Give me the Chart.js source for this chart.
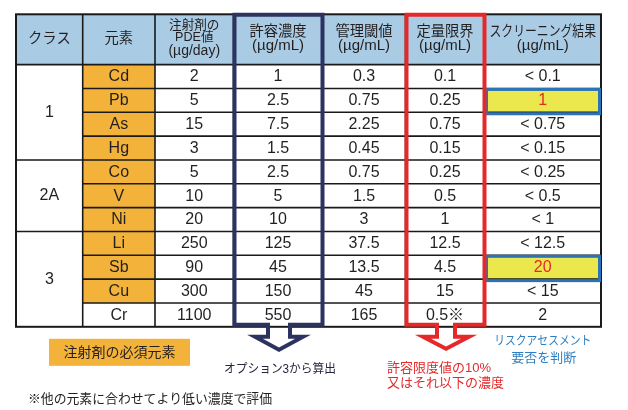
<!DOCTYPE html>
<html lang="ja">
<head>
<meta charset="utf-8">
<title>注射剤の元素不純物 評価表</title>
<script src="https://cdn.jsdelivr.net/npm/chart.js@4.4.1/dist/chart.umd.min.js"></script>
<style>
  html, body { margin: 0; padding: 0; background: #fff; }
  #wrap { position: relative; width: 628px; height: 410px; }
</style>
</head>
<body>
<div id="wrap"><canvas id="tableChart"></canvas></div>
<script>
// DATA
const headers = [
  ['クラス'], ['元素'], ['注射剤の', 'PDE値', '(µg/day)'],
  ['許容濃度', '(µg/mL)'], ['管理閾値', '(µg/mL)'], ['定量限界', '(µg/mL)'],
  ['スクリーニング結果', '(µg/mL)']
];
const classes = ['1', '2A', '3'];
const classSizes = [4, 3, 4];
const elements = ['Cd', 'Pb', 'As', 'Hg', 'Co', 'V', 'Ni', 'Li', 'Sb', 'Cu', 'Cr'];
const pdeValues = [2, 5, 15, 3, 5, 10, 20, 250, 90, 300, 1100];
const permittedConc = [1, 2.5, 7.5, 1.5, 2.5, 5, 10, 125, 45, 150, 550];
const controlThreshold = [0.3, 0.75, 2.25, 0.45, 0.75, 1.5, 3, 37.5, 13.5, 45, 165];
const quantLimit = [0.1, 0.25, 0.75, 0.15, 0.25, 0.5, 1, 12.5, 4.5, 15, 0.5];
const screeningResult = [0.1, 1, 0.75, 0.15, 0.25, 0.5, 1, 12.5, 20, 15, 2];
const belowLimit = [true, false, true, true, true, true, true, true, false, true, false];
const essentialElements = ['Cd', 'Pb', 'As', 'Hg', 'Co', 'V', 'Ni', 'Li', 'Sb', 'Cu'];
const flaggedElements = ['Pb', 'Sb'];
const footnoted = ['Cr'];

const legendText = '注射剤の必須元素';
const navyNote = 'オプション3から算出';
const redNote = ['許容限度値の10%', '又はそれ以下の濃度'];
const blueNote = ['リスクアセスメント', '要否を判断'];
const footnote = '※他の元素に合わせてより低い濃度で評価';

// layout (px from table left / row units)
const COL_EDGES = [0, 66.7, 139, 217.5, 306.5, 389.5, 468.5, 585];
const HEADER_H = 2.11;
const N = elements.length;

const DARK = '#231f20';
const NAVY = '#2d3361';
const RED = '#e5292b';
const BLUE = '#2c72b6';
const ORANGE = '#f3b23a';
const HEAD_BG = '#a9cbe4';
const FONT = '"Liberation Sans", "Noto Sans CJK JP", sans-serif';

const tablePlugin = {
  id: 'tablePlugin',
  beforeDraw(chart) {
    const ctx = chart.ctx;
    ctx.save();
    ctx.fillStyle = '#fff';
    ctx.fillRect(0, 0, chart.width, chart.height);
    ctx.restore();
  },
  afterDraw(chart) {
    const { ctx, scales: { x, y } } = chart;
    const X = v => x.getPixelForValue(v);
    const Y = v => y.getPixelForValue(v);
    const colL = c => X(COL_EDGES[c]);
    const colR = c => X(COL_EDGES[c + 1]);
    const colC = c => (colL(c) + colR(c)) / 2;
    const rowT = i => Y(HEADER_H + i);
    const rowB = i => Y(HEADER_H + i + 1);
    const rowC = i => (rowT(i) + rowB(i)) / 2;
    const left = X(0), right = X(585), top = Y(0), headB = Y(HEADER_H), bottom = Y(HEADER_H + N);

    const text = (s, cx, cy, size, color, maxW, align) => {
      ctx.font = size + 'px ' + FONT;
      ctx.fillStyle = color;
      ctx.textAlign = align || 'center';
      ctx.textBaseline = 'middle';
      if (maxW) ctx.fillText(s, cx, cy, maxW); else ctx.fillText(s, cx, cy);
    };

    ctx.save();
    // header background
    ctx.fillStyle = HEAD_BG;
    ctx.fillRect(left, top, right - left, headB - top);

    // essential element cells, flagged screening cells
    elements.forEach((el, i) => {
      if (essentialElements.includes(el)) {
        ctx.fillStyle = ORANGE;
        ctx.fillRect(colL(1), rowT(i), colR(1) - colL(1), rowB(i) - rowT(i));
      }
      if (flaggedElements.includes(el)) {
        ctx.fillStyle = '#ebe84e';
        ctx.fillRect(colL(6), rowT(i), colR(6) - colL(6), rowB(i) - rowT(i));
      }
    });

    // grid lines
    ctx.strokeStyle = '#1a1a1a';
    ctx.lineWidth = 1.6;
    ctx.beginPath();
    for (let i = 1; i < N; i++) {
      ctx.moveTo(colL(1), rowT(i));
      ctx.lineTo(right, rowT(i));
    }
    let acc = 0;
    classSizes.slice(0, -1).forEach(s => {
      acc += s;
      ctx.moveTo(left, rowT(acc));
      ctx.lineTo(colL(1), rowT(acc));
    });
    ctx.moveTo(left, headB); ctx.lineTo(right, headB);
    for (let c = 1; c < COL_EDGES.length - 1; c++) {
      ctx.moveTo(colL(c), top); ctx.lineTo(colL(c), bottom);
    }
    ctx.stroke();
    ctx.lineWidth = 2;
    ctx.strokeRect(left, top, right - left, bottom - top);

    // header text
    headers.forEach((lines, c) => {
      const three = lines.length > 2;
      const step = three ? 12.6 : 13.4;
      const y0 = (top + headB) / 2 - (lines.length - 1) * step / 2 - (three ? 1 : 0);
      lines.forEach((ln, k) => {
        const latin = ln.startsWith('(');
        const size = latin ? (three ? 14 : 15) : (three ? 12.6 : 14.3);
        const yy = y0 + k * step + (latin ? 0 : -0.5);
        text(ln, colC(c), yy, size, DARK, colR(c) - colL(c) - 10);
      });
    });

    // class column
    acc = 0;
    classes.forEach((cl, k) => {
      const yc = (rowT(acc) + rowB(acc + classSizes[k] - 1)) / 2;
      text(cl, colC(0), yc, 16, DARK);
      acc += classSizes[k];
    });

    // body cells
    elements.forEach((el, i) => {
      const cy = rowC(i) + 0.5;
      text(el, colC(1), cy, 16, DARK);
      text(String(pdeValues[i]), colC(2), cy, 16, DARK);
      text(String(permittedConc[i]), colC(3), cy, 16, DARK);
      text(String(controlThreshold[i]), colC(4), cy, 16, DARK);
      text(quantLimit[i] + (footnoted.includes(el) ? '※' : ''), colC(5), cy, 16, DARK);
      const s = (belowLimit[i] ? '< ' : '') + screeningResult[i];
      text(s, colC(6), cy, 16, flaggedElements.includes(el) ? RED : DARK);
    });

    // flagged borders
    ctx.strokeStyle = BLUE;
    ctx.lineWidth = 3;
    elements.forEach((el, i) => {
      if (!flaggedElements.includes(el)) return;
      ctx.strokeRect(colL(6) + 2, rowT(i) + 1, colR(6) - colL(6) - 3.5, rowB(i) - rowT(i) + 0.5);
    });

    // box + arrow outlines
    const boxArrow = (c, color, shaftHalf, headHalf, tipOff, cxShift) => {
      const l = colL(c) + 1, r = colR(c), t = top + 0.5, b = bottom - 2;
      const cx = colC(c) + cxShift;
      const headY = b + 12, tipY = b + tipOff;
      ctx.strokeStyle = color;
      ctx.lineWidth = 4;
      ctx.lineJoin = 'miter';
      ctx.beginPath();
      ctx.moveTo(cx - shaftHalf, b);
      ctx.lineTo(l, b);
      ctx.lineTo(l, t);
      ctx.lineTo(r, t);
      ctx.lineTo(r, b);
      ctx.lineTo(cx + shaftHalf, b);
      ctx.lineTo(cx + shaftHalf, headY);
      ctx.lineTo(cx + headHalf, headY);
      ctx.lineTo(cx, tipY);
      ctx.lineTo(cx - headHalf, headY);
      ctx.lineTo(cx - shaftHalf, headY);
      ctx.closePath();
      ctx.stroke();
    };
    boxArrow(3, NAVY, 11, 24, 25, 1);
    boxArrow(5, RED, 9, 23, 24, 1);

    // annotations below the table
    ctx.fillStyle = ORANGE;
    ctx.fillRect(X(33), bottom + 12, X(174) - X(33), 27);
    text(legendText, (X(33) + X(174)) / 2, bottom + 26, 14, DARK);
    text(navyNote, colC(3) + 2, bottom + 43, 12.5, '#25273f', 112);
    text(redNote[0], X(371), bottom + 42, 13, RED, 112, 'left');
    text(redNote[1], X(371), bottom + 57, 13, RED, 118, 'left');
    text(blueNote[0], colC(6), bottom + 15, 12.5, '#2f7fc0', 97);
    text(blueNote[1], colC(6) + 1, bottom + 32, 13, '#2f7fc0');
    text(footnote, X(12), bottom + 73, 13, DARK, 244, 'left');
    ctx.restore();
  }
};

new Chart(document.getElementById('tableChart'), {
  type: 'scatter',
  data: { datasets: [] },
  options: {
    responsive: true,
    maintainAspectRatio: false,
    animation: false,
    layout: { padding: { left: 16, right: 27, top: 14.3, bottom: 83.2 } },
    scales: {
      x: { type: 'linear', display: false, min: 0, max: 585 },
      y: { type: 'linear', display: false, min: 0, max: HEADER_H + N, reverse: true }
    },
    plugins: { legend: { display: false }, tooltip: { enabled: false } }
  },
  plugins: [tablePlugin]
});
</script>
</body>
</html>
